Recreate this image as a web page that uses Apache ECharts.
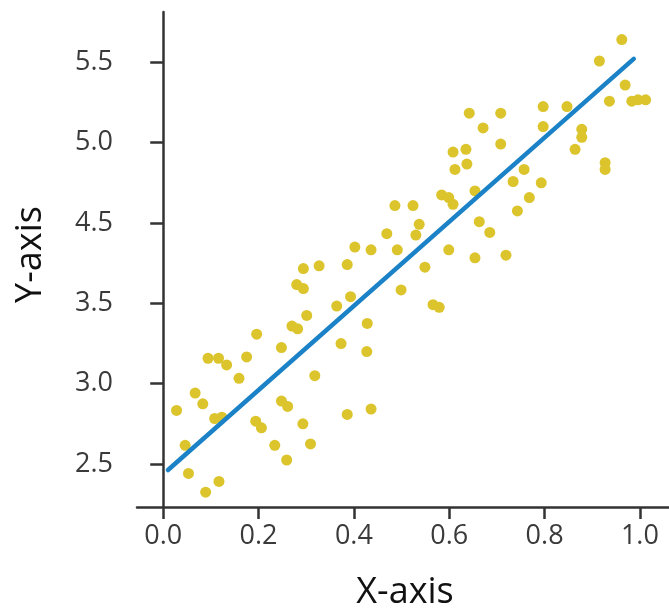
<!DOCTYPE html>
<html>
<head>
<meta charset="utf-8">
<script src="https://cdn.jsdelivr.net/npm/echarts@6/dist/echarts.min.js"></script>
<style>
  html, body { margin: 0; padding: 0; background: #fff; }
  #chart { width: 669px; height: 610px; }
</style>
</head>
<body>
<div id="chart"></div>
<script>
// scatter points
const X_VALUES = [
  0.028, 0.046, 0.053, 0.067, 0.083, 0.089, 0.094, 0.116, 0.133, 0.108,
  0.123, 0.117, 0.159, 0.175, 0.196, 0.194, 0.206, 0.234, 0.248, 0.248,
  0.261, 0.259, 0.270, 0.282, 0.293, 0.301, 0.309, 0.318, 0.294, 0.327,
  0.280, 0.294, 0.364, 0.373, 0.386, 0.393, 0.402, 0.436, 0.428, 0.427,
  0.386, 0.436, 0.469, 0.491, 0.486, 0.524, 0.537, 0.530, 0.499, 0.549,
  0.566, 0.579, 0.584, 0.599, 0.608, 0.599, 0.608, 0.635, 0.612, 0.637,
  0.642, 0.654, 0.663, 0.685, 0.654, 0.671, 0.708, 0.708, 0.719, 0.734,
  0.743, 0.757, 0.768, 0.793, 0.797, 0.797, 0.847, 0.864, 0.878, 0.878,
  0.915, 0.927, 0.927, 0.936, 0.962, 0.969, 0.983, 0.996, 1.012
];
const Y_VALUES = [
  2.90, 2.64, 2.43, 3.03, 2.95, 2.29, 3.29, 3.29, 3.24, 2.84,
  2.85, 2.37, 3.14, 3.30, 3.47, 2.82, 2.77, 2.64, 3.37, 2.97,
  2.93, 2.53, 3.53, 3.51, 2.80, 3.61, 2.65, 3.16, 3.96, 3.98,
  3.84, 3.81, 3.68, 3.40, 3.99, 3.75, 4.12, 4.10, 3.55, 3.34,
  2.87, 2.91, 4.22, 4.10, 4.43, 4.43, 4.29, 4.21, 3.80, 3.97,
  3.69, 3.67, 4.51, 4.49, 4.44, 4.10, 4.83, 4.85, 4.70, 4.74,
  5.12, 4.54, 4.31, 4.23, 4.04, 5.01, 5.12, 4.89, 4.06, 4.61,
  4.39, 4.70, 4.49, 4.60, 5.17, 5.02, 5.17, 4.85, 5.00, 4.94,
  5.51, 4.75, 4.70, 5.21, 5.67, 5.33, 5.21, 5.22, 5.22
];

// fitted line end points
const FIT_X = [0.01, 0.987];
const FIT_Y = [2.455, 5.526];

// axis ticks (y ticks are evenly spaced but labelled as in the picture)
const X_TICKS = [0, 0.2, 0.4, 0.6, 0.8, 1.0];
const Y_TICKS = [2.5, 3.1, 3.7, 4.3, 4.9, 5.5];
const Y_TICK_LABELS = ['2.5', '3.0', '3.5', '4.5', '5.0', '5.5'];

const FONT = 'Open Sans';
const AXIS_COLOR = '#333';

const chart = echarts.init(document.getElementById('chart'), null, { renderer: 'canvas' });

const points = X_VALUES.map((x, i) => [x, Y_VALUES[i]]);
const fitLine = FIT_X.map((x, i) => [x, FIT_Y[i]]);

chart.setOption({
  backgroundColor: '#fff',
  animation: false,
  grid: { left: 137, right: 0, top: 12, bottom: 103, containLabel: false, outerBoundsMode: 'none' },
  xAxis: {
    type: 'value',
    min: -0.055,
    max: 1.061,
    name: 'X-axis',
    nameLocation: 'middle',
    nameGap: 68,
    nameTextStyle: { fontFamily: FONT, fontSize: 36, color: '#111', padding: [0, 0, 0, 4] },
    axisLine: { show: true, lineStyle: { color: AXIS_COLOR, width: 2.5 } },
    axisTick: { show: true, length: 12, customValues: X_TICKS, lineStyle: { color: AXIS_COLOR, width: 2.5 } },
    axisLabel: {
      customValues: X_TICKS,
      margin: 16,
      fontFamily: FONT,
      fontSize: 27,
      color: '#3a3a3a',
      formatter: (v) => v.toFixed(1),
    },
    splitLine: { show: false },
  },
  yAxis: {
    type: 'value',
    min: 2.179,
    max: 5.876,
    name: 'Y-axis',
    nameLocation: 'middle',
    nameGap: 88,
    nameTextStyle: { fontFamily: FONT, fontSize: 36, color: '#111', padding: [0, 0, 0, 10] },
    axisLine: { show: true, lineStyle: { color: AXIS_COLOR, width: 2.5 } },
    axisTick: { show: true, length: 13, customValues: Y_TICKS, lineStyle: { color: AXIS_COLOR, width: 2.5 } },
    axisLabel: {
      customValues: Y_TICKS,
      margin: 24,
      fontFamily: FONT,
      fontSize: 27,
      color: '#3a3a3a',
      formatter: (v) => {
        const idx = Y_TICKS.findIndex((t) => Math.abs(t - v) < 1e-6);
        return idx >= 0 ? Y_TICK_LABELS[idx] : '';
      },
    },
    splitLine: { show: false },
  },
  series: [
    {
      type: 'scatter',
      data: points,
      symbolSize: 11,
      itemStyle: { color: '#dcc42c', opacity: 1 },
      z: 2,
    },
    {
      type: 'line',
      data: fitLine,
      showSymbol: false,
      symbol: 'none',
      lineStyle: { color: '#1b82c7', width: 4.5, cap: 'round' },
      z: 3,
    },
  ],
});
</script>
</body>
</html>
